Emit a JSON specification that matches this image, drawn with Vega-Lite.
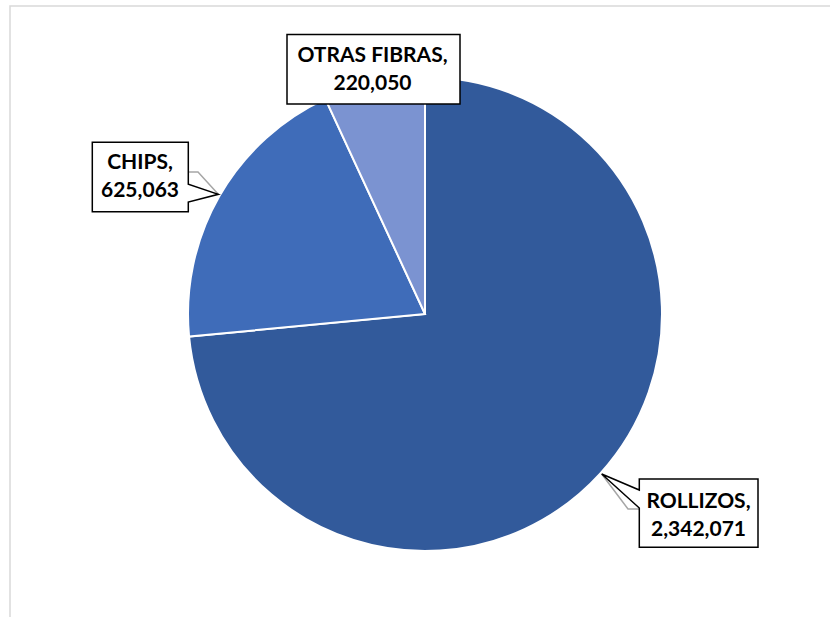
{
  "$schema": "https://vega.github.io/schema/vega-lite/v6.json",
  "width": 830,
  "height": 616,
  "autosize": {"type": "none"},
  "padding": {"left": 10, "top": 6, "right": -10, "bottom": -5},
  "background": "white",
  "config": {"view": {"stroke": "#d9d9d9", "strokeWidth": 1.5}},
  "data": {
    "values": [
      {"category": "ROLLIZOS", "value": 2342071},
      {"category": "CHIPS", "value": 625063},
      {"category": "OTRAS FIBRAS", "value": 220050}
    ]
  },
  "layer": [
    {
      "mark": {"type": "arc", "outerRadius": 237, "stroke": "white", "strokeWidth": 2},
      "encoding": {
        "theta": {"field": "value", "type": "quantitative", "stack": true},
        "order": {"field": "value", "type": "quantitative", "sort": "descending"},
        "color": {
          "field": "category",
          "type": "nominal",
          "scale": {"domain": ["ROLLIZOS", "CHIPS", "OTRAS FIBRAS"], "range": ["#325A9B", "#3F6CB9", "#7B93D1"]},
          "legend": null
        }
      }
    },
    {
      "transform": [{"filter": "datum.category != 'OTRAS FIBRAS'"}],
      "mark": {"type": "point", "filled": false, "stroke": "#a6a6a6", "strokeWidth": 1.5, "size": 4, "opacity": 1},
      "encoding": {
        "x": {"field": "value", "type": "quantitative", "axis": null, "scale": {"domain": [220050, 625063, 2342071], "range": [362.5, 130, 688.5], "zero": false, "nice": false}},
        "y": {"field": "value", "type": "quantitative", "axis": null, "scale": {"domain": [220050, 625063, 2342071], "range": [62.9, 169.8, 508.6], "zero": false, "nice": false}},
        "shape": {
          "field": "category",
          "type": "nominal",
          "scale": {"domain": ["ROLLIZOS", "CHIPS"], "range": ["M-96.8,-40.6 L-70.5,-5.6 L-58.5,-5.6", "M47,-3.8 L58,-3.8 L78.3,18.5"]},
          "legend": null
        }
      }
    },
    {
      "mark": {"type": "point", "filled": true, "fill": "white", "stroke": "black", "strokeWidth": 1.5, "size": 4, "opacity": 1},
      "encoding": {
        "x": {"field": "value", "type": "quantitative", "axis": null, "scale": {"domain": [220050, 625063, 2342071], "range": [362.5, 130, 688.5], "zero": false, "nice": false}},
        "y": {"field": "value", "type": "quantitative", "axis": null, "scale": {"domain": [220050, 625063, 2342071], "range": [62.9, 169.8, 508.6], "zero": false, "nice": false}},
        "shape": {
          "field": "category",
          "type": "nominal",
          "scale": {
            "domain": ["ROLLIZOS", "CHIPS", "OTRAS FIBRAS"],
            "range": [
              "M-59.2,-35.6 L59.5,-35.6 L59.5,32.7 L-59.2,32.7 L-59.2,-6.6 L-96.8,-40.6 L-59.2,-24.6 Z",
              "M-47.7,-33.5 L48.3,-33.5 L48.3,8.5 L78.3,18.5 L48.3,26.2 L48.3,35.9 L-47.7,35.9 Z",
              "M-85.5,-34.5 L87.5,-34.5 L87.5,35 L-85.5,35 Z"
            ]
          },
          "legend": null
        }
      }
    },
    {
      "transform": [{"calculate": "datum.category + ','", "as": "line1"}],
      "mark": {"type": "text", "font": "Lato", "fontWeight": "bold", "fontSize": 21, "baseline": "alphabetic", "align": "center", "dy": -7, "color": "black"},
      "encoding": {
        "x": {"field": "value", "type": "quantitative", "axis": null, "scale": {"domain": [220050, 625063, 2342071], "range": [362.5, 130, 688.5], "zero": false, "nice": false}},
        "y": {"field": "value", "type": "quantitative", "axis": null, "scale": {"domain": [220050, 625063, 2342071], "range": [62.9, 169.8, 508.6], "zero": false, "nice": false}},
        "text": {"field": "line1", "type": "nominal"}
      }
    },
    {
      "mark": {"type": "text", "font": "Lato", "fontWeight": "bold", "fontSize": 21, "baseline": "alphabetic", "align": "center", "dy": 21.5, "color": "black"},
      "encoding": {
        "x": {"field": "value", "type": "quantitative", "axis": null, "scale": {"domain": [220050, 625063, 2342071], "range": [362.5, 130, 688.5], "zero": false, "nice": false}},
        "y": {"field": "value", "type": "quantitative", "axis": null, "scale": {"domain": [220050, 625063, 2342071], "range": [62.9, 169.8, 508.6], "zero": false, "nice": false}},
        "text": {"field": "value", "type": "quantitative", "format": ","}
      }
    }
  ],
  "resolve": {"scale": {"shape": "independent"}}
}
